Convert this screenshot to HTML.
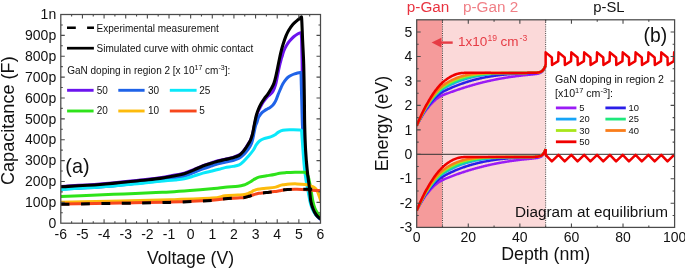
<!DOCTYPE html>
<html><head><meta charset="utf-8"><style>
html,body{margin:0;padding:0;background:#fff;}
body{width:685px;height:269px;overflow:hidden;position:relative;}
svg text{font-family:"Liberation Sans", sans-serif;} svg{will-change:transform;}
</style></head><body>
<svg fill="#111" width="685" height="269" viewBox="0 0 685 269" style="position:absolute;left:0;top:0">
<defs><clipPath id="ca"><rect x="60.8" y="14.5" width="259.7" height="208.7"/></clipPath>
<clipPath id="cb"><rect x="416.7" y="19.8" width="257.90000000000003" height="207.6"/></clipPath></defs>
<g clip-path="url(#ca)" fill="none" stroke-width="3.0" stroke-linejoin="round" stroke-linecap="butt">
<path d="M60.8 186.4 C67.33 186.02 86.8 185.17 100 184.1 C113.2 183.03 130 181.05 140 180 C150 178.95 154.17 178.63 160 177.8 C165.83 176.97 170.95 175.77 175 175 C179.05 174.23 181.2 174.08 184.3 173.2 C187.4 172.32 190.5 170.97 193.6 169.7 C196.7 168.43 199.8 166.78 202.9 165.6 C206 164.42 209.52 163.45 212.2 162.6 C214.88 161.75 216.87 161.07 219 160.5 C221.13 159.93 222.68 159.72 225 159.2 C227.32 158.68 230.53 158.12 232.9 157.4 C235.27 156.68 237.47 155.95 239.2 154.9 C240.93 153.85 242.08 152.48 243.3 151.1 C244.52 149.72 245.55 148.02 246.5 146.6 C247.45 145.18 248.3 143.77 249 142.6 C249.7 141.43 250.08 141.1 250.7 139.6 C251.32 138.1 252.05 136.15 252.7 133.6 C253.35 131.05 253.95 127.23 254.6 124.3 C255.25 121.37 255.98 118.22 256.6 116 C257.22 113.78 257.63 112.58 258.3 111 C258.97 109.42 259.8 107.97 260.6 106.5 C261.4 105.03 262.03 103.75 263.1 102.2 C264.17 100.65 265.85 98.47 267 97.2 C268.15 95.93 269 95.6 270 94.6 C271 93.6 272.07 92.85 273 91.2 C273.93 89.55 274.85 87.3 275.6 84.7 C276.35 82.1 276.87 78.63 277.5 75.6 C278.13 72.57 278.82 69.1 279.4 66.5 C279.98 63.9 280.5 61.83 281 60 C281.5 58.17 281.92 57.07 282.4 55.5 C282.88 53.93 283.22 52.28 283.9 50.6 C284.58 48.92 285.55 47 286.5 45.4 C287.45 43.8 288.35 42.48 289.6 41 C290.85 39.52 292.6 37.7 294 36.5 C295.4 35.3 296.97 34.42 298 33.8 C299.03 33.18 299.72 32.97 300.2 32.8 C300.68 32.63 300.78 32.8 300.9 32.8 L300.9 32.8 C300.97 33.17 301.18 33.8 301.3 35 C301.42 36.2 301.47 35.17 301.6 40 C301.73 44.83 301.97 54.83 302.1 64 C302.23 73.17 302.25 84.83 302.4 95 C302.55 105.17 302.7 115.83 303 125 C303.3 134.17 303.7 142.5 304.2 150 C304.7 157.5 305.27 163.67 306 170 C306.73 176.33 307.88 183 308.6 188 C309.32 193 309.57 196.5 310.3 200 C311.03 203.5 312.05 206.53 313 209 C313.95 211.47 314.97 213.25 316 214.8 C317.03 216.35 318.37 217.55 319.2 218.3 C320.03 219.05 320.7 219.13 321 219.3" stroke="#6c14ee"/>
<path d="M60.8 189.2 C67.33 188.83 86.8 188.03 100 187 C113.2 185.97 130 184.03 140 183 C150 181.97 154.17 181.65 160 180.8 C165.83 179.95 170.95 178.67 175 177.9 C179.05 177.13 181.2 177.07 184.3 176.2 C187.4 175.33 190.5 173.93 193.6 172.7 C196.7 171.47 199.8 169.95 202.9 168.8 C206 167.65 209.52 166.67 212.2 165.8 C214.88 164.93 216.87 164.18 219 163.6 C221.13 163.02 222.68 162.82 225 162.3 C227.32 161.78 230.53 161.17 232.9 160.5 C235.27 159.83 237.47 159.22 239.2 158.3 C240.93 157.38 242.08 156.15 243.3 155 C244.52 153.85 245.55 152.57 246.5 151.4 C247.45 150.23 248.17 149.32 249 148 C249.83 146.68 250.83 145.17 251.5 143.5 C252.17 141.83 252.55 139.92 253 138 C253.45 136.08 253.78 134 254.2 132 C254.62 130 255.05 127.58 255.5 126 C255.95 124.42 256.43 123.83 256.9 122.5 C257.37 121.17 257.78 119.22 258.3 118 C258.82 116.78 259.38 116.1 260 115.2 C260.62 114.3 261.25 113.35 262 112.6 C262.75 111.85 263.62 111.3 264.5 110.7 C265.38 110.1 266.37 109.55 267.3 109 C268.23 108.45 269.23 107.98 270.1 107.4 C270.97 106.82 271.77 106.25 272.5 105.5 C273.23 104.75 273.87 103.93 274.5 102.9 C275.13 101.87 275.73 100.6 276.3 99.3 C276.87 98 277.35 96.48 277.9 95.1 C278.45 93.72 279.05 92.3 279.6 91 C280.15 89.7 280.65 88.5 281.2 87.3 C281.75 86.1 282.33 84.83 282.9 83.8 C283.47 82.77 283.98 81.97 284.6 81.1 C285.22 80.23 285.87 79.35 286.6 78.6 C287.33 77.85 288.13 77.2 289 76.6 C289.87 76 290.87 75.45 291.8 75 C292.73 74.55 293.65 74.23 294.6 73.9 C295.55 73.57 296.57 73.25 297.5 73 C298.43 72.75 299.62 72.48 300.2 72.4 C300.78 72.32 300.87 72.48 301 72.5 L301 72.5 C301.05 74.58 301.18 80.42 301.3 85 C301.42 89.58 301.52 93.33 301.7 100 C301.88 106.67 302.1 117.5 302.4 125 C302.7 132.5 303.07 138.83 303.5 145 C303.93 151.17 304.42 156.5 305 162 C305.58 167.5 306.33 173 307 178 C307.67 183 308.37 187.83 309 192 C309.63 196.17 310.05 199.92 310.8 203 C311.55 206.08 312.55 208.42 313.5 210.5 C314.45 212.58 315.5 214.17 316.5 215.5 C317.5 216.83 318.75 217.83 319.5 218.5 C320.25 219.17 320.75 219.33 321 219.5" stroke="#1f63e8"/>
<path d="M60.8 189.4 C67.33 189.02 86.8 188.1 100 187.1 C113.2 186.1 130 184.37 140 183.4 C150 182.43 154.17 181.88 160 181.3 C165.83 180.72 170.95 180.33 175 179.9 C179.05 179.47 181.2 179.33 184.3 178.7 C187.4 178.07 190.5 177.03 193.6 176.1 C196.7 175.17 199.8 173.95 202.9 173.1 C206 172.25 209.52 171.63 212.2 171 C214.88 170.37 216.87 169.87 219 169.3 C221.13 168.73 222.68 168.08 225 167.6 C227.32 167.12 230.53 166.87 232.9 166.4 C235.27 165.93 237.42 165.63 239.2 164.8 C240.98 163.97 242.08 162.82 243.6 161.4 C245.12 159.98 246.67 158.2 248.3 156.3 C249.93 154.4 252.08 151.92 253.4 150 C254.72 148.08 255.18 146.3 256.2 144.8 C257.22 143.3 258.2 142.02 259.5 141 C260.8 139.98 262.15 139.38 264 138.7 C265.85 138.02 268.75 137.55 270.6 136.9 C272.45 136.25 273.78 135.6 275.1 134.8 C276.42 134 277.2 132.85 278.5 132.1 C279.8 131.35 281.05 130.68 282.9 130.3 C284.75 129.92 286.8 129.87 289.6 129.8 C292.4 129.73 297.7 129.8 299.7 129.9 C301.7 130 301.28 130.32 301.6 130.4 L301.6 130.4 C301.67 131.5 301.83 134.57 302 137 C302.17 139.43 302.37 141.83 302.6 145 C302.83 148.17 303.1 152.2 303.4 156 C303.7 159.8 303.97 163.8 304.4 167.8 C304.83 171.8 305.33 175.8 306 180 C306.67 184.2 307.63 189 308.4 193 C309.17 197 309.73 200.92 310.6 204 C311.47 207.08 312.53 209.5 313.6 211.5 C314.67 213.5 315.77 214.75 317 216 C318.23 217.25 320.33 218.5 321 219" stroke="#0ae8fa"/>
<path d="M60.8 196.4 C66 196.2 81.47 195.62 92 195.2 C102.53 194.78 113.33 194.33 124 193.9 C134.67 193.47 148.33 192.92 156 192.6 C163.67 192.28 164.33 192.33 170 192 C175.67 191.67 182.67 191.17 190 190.6 C197.33 190.03 208.17 189.15 214 188.6 C219.83 188.05 221 187.7 225 187.3 C229 186.9 234.83 186.58 238 186.2 C241.17 185.82 242.48 185.43 244 185 C245.52 184.57 246.02 184.15 247.1 183.6 C248.18 183.05 249.42 182.35 250.5 181.7 C251.58 181.05 252.22 180.47 253.6 179.7 C254.98 178.93 256.63 177.75 258.8 177.1 C260.97 176.45 264 176.23 266.6 175.8 C269.2 175.37 272.23 174.93 274.4 174.5 C276.57 174.07 277.65 173.52 279.6 173.2 C281.55 172.88 283.53 172.77 286.1 172.6 C288.67 172.43 291.93 172.27 295 172.2 C298.07 172.13 302.68 172.13 304.5 172.2 C306.32 172.27 305.67 172.53 305.9 172.6 L305.9 172.6 C306.15 173 306.92 174.05 307.4 175 C307.88 175.95 308.18 175.97 308.75 178.3 C309.32 180.63 310.11 185.18 310.8 189 C311.49 192.82 312.2 198 312.9 201.25 C313.6 204.5 314.23 206.54 315 208.5 C315.77 210.46 316.58 211.6 317.5 213 C318.42 214.4 319.83 216.15 320.5 216.9 C321.17 217.65 321.33 217.4 321.5 217.5" stroke="#2ee31a"/>
<path d="M60.8 202.2 C70.67 202.02 101.8 201.5 120 201.1 C138.2 200.7 154.67 200.3 170 199.8 C185.33 199.3 202.83 198.77 212 198.1 C221.17 197.43 220.67 196.3 225 195.8 C229.33 195.3 234.75 195.3 238 195.1 C241.25 194.9 242.83 194.85 244.5 194.6 C246.17 194.35 246.92 194 248 193.6 C249.08 193.2 250.08 192.68 251 192.2 C251.92 191.72 252.63 191.13 253.5 190.7 C254.37 190.27 255.12 189.9 256.2 189.6 C257.28 189.3 258.7 189.08 260 188.9 C261.3 188.72 262.5 188.63 264 188.5 C265.5 188.37 267.27 188.28 269 188.1 C270.73 187.92 272.98 187.67 274.4 187.4 C275.82 187.13 276.63 186.8 277.5 186.5 C278.37 186.2 278.68 185.88 279.6 185.6 C280.52 185.32 281.92 185 283 184.8 C284.08 184.6 284.93 184.53 286.1 184.4 C287.27 184.27 288.18 184.08 290 184 C291.82 183.92 294.42 183.8 297 183.9 C299.58 184 303.33 184.32 305.5 184.6 C307.67 184.88 308.72 185.23 310 185.6 C311.28 185.97 312.28 186.32 313.2 186.8 C314.12 187.28 314.78 187.72 315.5 188.5 C316.22 189.28 316.83 190.08 317.5 191.5 C318.17 192.92 318.92 195.33 319.5 197 C320.08 198.67 320.75 200.75 321 201.5" stroke="#fdbb0c"/>
<path d="M60.8 204.1 C70.67 203.93 101.8 203.43 120 203.1 C138.2 202.77 154.67 202.58 170 202.1 C185.33 201.62 202.83 200.77 212 200.2 C221.17 199.63 220.67 199.08 225 198.7 C229.33 198.32 234.75 198.12 238 197.9 C241.25 197.68 242.67 197.68 244.5 197.4 C246.33 197.12 247.48 196.65 249 196.2 C250.52 195.75 251.97 195.18 253.6 194.7 C255.23 194.22 257.07 193.62 258.8 193.3 C260.53 192.98 262.27 192.97 264 192.8 C265.73 192.63 267.45 192.5 269.2 192.3 C270.95 192.1 272.77 191.87 274.5 191.6 C276.23 191.33 278.1 190.97 279.6 190.7 C281.1 190.43 282.2 190.2 283.5 190 C284.8 189.8 285.15 189.62 287.4 189.5 C289.65 189.38 293.4 189.23 297 189.3 C300.6 189.37 305 189.65 309 189.9 C313 190.15 319 190.65 321 190.8" stroke="#f7471c"/>
<path d="M60.8 204.3 C70.67 204.13 101.8 203.62 120 203.3 C138.2 202.98 154.67 202.88 170 202.4 C185.33 201.92 202.83 201 212 200.4 C221.17 199.8 220.67 199.2 225 198.8 C229.33 198.4 234.75 198.22 238 198 C241.25 197.78 242.67 197.78 244.5 197.5 C246.33 197.22 247.48 196.75 249 196.3 C250.52 195.85 251.97 195.28 253.6 194.8 C255.23 194.32 257.07 193.73 258.8 193.4 C260.53 193.07 262.27 192.98 264 192.8 C265.73 192.62 267.45 192.5 269.2 192.3 C270.95 192.1 272.77 191.87 274.5 191.6 C276.23 191.33 278.1 190.97 279.6 190.7 C281.1 190.43 282.2 190.2 283.5 190 C284.8 189.8 285.15 189.62 287.4 189.5 C289.65 189.38 293.9 189.35 297 189.3 C300.1 189.25 302.87 189.23 306 189.2 C309.13 189.17 313.3 189.13 315.8 189.1 C318.3 189.07 320.13 189.02 321 189" stroke="#000" stroke-dasharray="8.8 11.5"/>
<path d="M60.8 186.8 C67.33 186.42 86.8 185.55 100 184.5 C113.2 183.45 130 181.52 140 180.5 C150 179.48 154.17 179.2 160 178.4 C165.83 177.6 170.95 176.48 175 175.7 C179.05 174.92 181.2 174.63 184.3 173.7 C187.4 172.77 190.5 171.38 193.6 170.1 C196.7 168.82 199.8 167.18 202.9 166 C206 164.82 209.52 163.85 212.2 163 C214.88 162.15 216.87 161.47 219 160.9 C221.13 160.33 222.68 160.12 225 159.6 C227.32 159.08 230.53 158.52 232.9 157.8 C235.27 157.08 237.47 156.35 239.2 155.3 C240.93 154.25 242.08 152.88 243.3 151.5 C244.52 150.12 245.55 148.42 246.5 147 C247.45 145.58 248.3 144.2 249 143 C249.7 141.8 250.1 141.37 250.7 139.8 C251.3 138.23 251.98 136.18 252.6 133.6 C253.22 131.02 253.78 127.32 254.4 124.3 C255.02 121.28 255.65 117.97 256.3 115.5 C256.95 113.03 257.47 111.53 258.3 109.5 C259.13 107.47 260.27 105.17 261.3 103.3 C262.33 101.43 263.47 99.75 264.5 98.3 C265.53 96.85 266.42 96.15 267.5 94.6 C268.58 93.05 269.93 90.87 271 89 C272.07 87.13 273.07 85.63 273.9 83.4 C274.73 81.17 275.37 78.23 276 75.6 C276.63 72.97 277.22 69.95 277.7 67.6 C278.18 65.25 278.38 64 278.9 61.5 C279.42 59 280.1 55.47 280.8 52.6 C281.5 49.73 282.25 47.03 283.1 44.3 C283.95 41.57 284.98 38.5 285.9 36.2 C286.82 33.9 287.42 32.48 288.6 30.5 C289.78 28.52 291.52 26.02 293 24.3 C294.48 22.58 296.15 21.38 297.5 20.2 C298.85 19.02 300.5 17.7 301.1 17.2 L301.1 17.2 C301.2 17.5 301.45 15.2 301.7 19 C301.95 22.8 302.27 32.5 302.6 40 C302.93 47.5 303.42 54.83 303.7 64 C303.98 73.17 304.13 84.83 304.3 95 C304.47 105.17 304.48 115.83 304.7 125 C304.92 134.17 305.18 142.5 305.6 150 C306.02 157.5 306.55 163.55 307.2 170 C307.85 176.45 308.9 183.5 309.5 188.7 C310.1 193.9 310.17 197.73 310.8 201.2 C311.43 204.67 312.43 207.28 313.3 209.5 C314.17 211.72 315.02 213.1 316 214.5 C316.98 215.9 318.37 217.15 319.2 217.9 C320.03 218.65 320.7 218.82 321 219" stroke="#000" stroke-width="3.1"/>
</g>
<rect x="60.8" y="14.5" width="259.7" height="208.7" fill="none" stroke="#4a4a4a" stroke-width="1.25"/>
<path d="M71.62 223.2 v-2 M71.62 14.5 v2 M82.44 223.2 v-4 M82.44 14.5 v4 M93.26 223.2 v-2 M93.26 14.5 v2 M104.08 223.2 v-4 M104.08 14.5 v4 M114.9 223.2 v-2 M114.9 14.5 v2 M125.72 223.2 v-4 M125.72 14.5 v4 M136.55 223.2 v-2 M136.55 14.5 v2 M147.37 223.2 v-4 M147.37 14.5 v4 M158.19 223.2 v-2 M158.19 14.5 v2 M169.01 223.2 v-4 M169.01 14.5 v4 M179.83 223.2 v-2 M179.83 14.5 v2 M190.65 223.2 v-4 M190.65 14.5 v4 M201.47 223.2 v-2 M201.47 14.5 v2 M212.29 223.2 v-4 M212.29 14.5 v4 M223.11 223.2 v-2 M223.11 14.5 v2 M233.93 223.2 v-4 M233.93 14.5 v4 M244.75 223.2 v-2 M244.75 14.5 v2 M255.57 223.2 v-4 M255.57 14.5 v4 M266.4 223.2 v-2 M266.4 14.5 v2 M277.22 223.2 v-4 M277.22 14.5 v4 M288.04 223.2 v-2 M288.04 14.5 v2 M298.86 223.2 v-4 M298.86 14.5 v4 M309.68 223.2 v-2 M309.68 14.5 v2 M60.8 212.76 h2 M320.5 212.76 h-2 M60.8 202.33 h4 M320.5 202.33 h-4 M60.8 191.89 h2 M320.5 191.89 h-2 M60.8 181.46 h4 M320.5 181.46 h-4 M60.8 171.02 h2 M320.5 171.02 h-2 M60.8 160.59 h4 M320.5 160.59 h-4 M60.8 150.15 h2 M320.5 150.15 h-2 M60.8 139.72 h4 M320.5 139.72 h-4 M60.8 129.28 h2 M320.5 129.28 h-2 M60.8 118.85 h4 M320.5 118.85 h-4 M60.8 108.41 h2 M320.5 108.41 h-2 M60.8 97.98 h4 M320.5 97.98 h-4 M60.8 87.54 h2 M320.5 87.54 h-2 M60.8 77.11 h4 M320.5 77.11 h-4 M60.8 66.67 h2 M320.5 66.67 h-2 M60.8 56.24 h4 M320.5 56.24 h-4 M60.8 45.8 h2 M320.5 45.8 h-2 M60.8 35.37 h4 M320.5 35.37 h-4 M60.8 24.94 h2 M320.5 24.94 h-2" stroke="#4a4a4a" stroke-width="1.1" fill="none"/>
<text x="60.8" y="238.6" font-size="14" text-anchor="middle">-6</text>
<text x="82.44" y="238.6" font-size="14" text-anchor="middle">-5</text>
<text x="104.08" y="238.6" font-size="14" text-anchor="middle">-4</text>
<text x="125.72" y="238.6" font-size="14" text-anchor="middle">-3</text>
<text x="147.37" y="238.6" font-size="14" text-anchor="middle">-2</text>
<text x="169.01" y="238.6" font-size="14" text-anchor="middle">-1</text>
<text x="190.65" y="238.6" font-size="14" text-anchor="middle">0</text>
<text x="212.29" y="238.6" font-size="14" text-anchor="middle">1</text>
<text x="233.93" y="238.6" font-size="14" text-anchor="middle">2</text>
<text x="255.57" y="238.6" font-size="14" text-anchor="middle">3</text>
<text x="277.22" y="238.6" font-size="14" text-anchor="middle">4</text>
<text x="298.86" y="238.6" font-size="14" text-anchor="middle">5</text>
<text x="320.5" y="238.6" font-size="14" text-anchor="middle">6</text>
<text x="56.2" y="227.9" font-size="14" text-anchor="end">0</text>
<text x="56.2" y="207.03" font-size="14" text-anchor="end">100p</text>
<text x="56.2" y="186.16" font-size="14" text-anchor="end">200p</text>
<text x="56.2" y="165.29" font-size="14" text-anchor="end">300p</text>
<text x="56.2" y="144.42" font-size="14" text-anchor="end">400p</text>
<text x="56.2" y="123.55" font-size="14" text-anchor="end">500p</text>
<text x="56.2" y="102.68" font-size="14" text-anchor="end">600p</text>
<text x="56.2" y="81.81" font-size="14" text-anchor="end">700p</text>
<text x="56.2" y="60.94" font-size="14" text-anchor="end">800p</text>
<text x="56.2" y="40.07" font-size="14" text-anchor="end">900p</text>
<text x="56.2" y="19.2" font-size="14" text-anchor="end">1n</text>
<text x="190.5" y="263.8" font-size="17.6" text-anchor="middle">Voltage (V)</text>
<text transform="translate(14.4 120.7) rotate(-90)" font-size="18.1" text-anchor="middle">Capacitance (F)</text>
<text x="65.3" y="173.1" font-size="19.8">(a)</text>
<path d="M67 27.8 H75.8 M87.1 27.8 H94" stroke="#000" stroke-width="2.4"/>
<text x="96.6" y="31.6" font-size="10">Experimental measurement</text>
<path d="M67 48.2 H93.9" stroke="#000" stroke-width="2.7"/>
<text x="96.6" y="51.6" font-size="10">Simulated curve with ohmic contact</text>
<text x="67.2" y="74.3" font-size="10">GaN doping in region 2 [x 10<tspan dy="-4" font-size="7">17</tspan><tspan dy="4"> cm</tspan><tspan dy="-4" font-size="7">-3</tspan><tspan dy="4">]:</tspan></text>
<path d="M67.1 90.3 H93.6" stroke="#6c14ee" stroke-width="2.9"/>
<text x="96.8" y="93.7" font-size="10">50</text>
<path d="M118.3 90.3 H144.6" stroke="#1f63e8" stroke-width="2.9"/>
<text x="148.0" y="93.7" font-size="10">30</text>
<path d="M169.8 90.3 H196.6" stroke="#0ae8fa" stroke-width="2.9"/>
<text x="199.3" y="93.7" font-size="10">25</text>
<path d="M67.1 111.0 H93.6" stroke="#2ee31a" stroke-width="2.9"/>
<text x="96.8" y="114.4" font-size="10">20</text>
<path d="M118.3 111.0 H144.6" stroke="#fdbb0c" stroke-width="2.9"/>
<text x="148.0" y="114.4" font-size="10">10</text>
<path d="M169.8 111.0 H196.6" stroke="#f7471c" stroke-width="2.9"/>
<text x="199.3" y="114.4" font-size="10">5</text>
<rect x="416.7" y="19.8" width="25.79000000000002" height="207.6" fill="#f59b9b"/>
<rect x="442.49" y="19.8" width="103.15999999999997" height="207.6" fill="#fbd9d9"/>
<path d="M442.49 19.8 V227.4 M545.65 19.8 V227.4" stroke="#333" stroke-width="0.9" stroke-dasharray="1 1.2"/>
<path d="M416.7 154.3 H674.6" stroke="#333" stroke-width="1"/>
<g clip-path="url(#cb)" fill="none" stroke-width="2.5" stroke-linejoin="round">
<path d="M416.7 210.53 L417.34 209.29 L417.99 208.08 L418.63 206.89 L419.28 205.72 L419.92 204.58 L420.57 203.46 L421.21 202.36 L421.86 201.29 L422.5 200.25 L423.15 199.23 L423.79 198.23 L424.44 197.26 L425.08 196.31 L425.73 195.39 L426.37 194.49 L427.02 193.88 L427.66 193.03 L428.31 192.2 L428.95 191.4 L429.59 190.63 L430.24 189.87 L430.88 189.15 L431.53 188.44 L432.17 187.77 L432.82 187.11 L433.46 186.48 L434.11 185.88 L434.75 185.3 L435.4 184.74 L436.04 184.21 L436.69 183.7 L437.33 183.22 L437.98 182.75 L438.62 182.32 L439.27 181.9 L439.91 181.51 L440.56 181.13 L441.2 180.78 L441.85 180.44 L442.49 180.11 L443.13 179.8 L443.78 179.5 L444.42 179.21 L445.07 178.93 L445.71 178.66 L446.36 178.39 L447 178.12 L447.65 177.86 L448.29 177.6 L448.94 177.34 L449.58 177.09 L450.23 176.84 L450.87 176.59 L451.52 176.34 L452.16 176.09 L452.81 175.85 L453.45 175.61 L454.1 175.36 L454.74 175.13 L455.38 174.89 L456.03 174.65 L456.67 174.42 L457.32 174.19 L457.96 173.96 L458.61 173.73 L459.25 173.51 L459.9 173.29 L460.54 173.06 L461.19 172.84 L461.83 172.63 L462.48 172.41 L463.12 172.2 L463.77 171.98 L464.41 171.77 L465.06 171.57 L465.7 171.36 L466.35 171.15 L466.99 170.95 L467.64 170.75 L468.28 170.55 L468.92 170.35 L469.57 170.16 L470.21 169.96 L470.86 169.77 L471.5 169.58 L472.15 169.39 L472.79 169.2 L473.44 169.02 L474.08 168.83 L474.73 168.65 L475.37 168.47 L476.02 168.29 L476.66 168.12 L477.31 167.94 L477.95 167.77 L478.6 167.6 L479.24 167.43 L479.89 167.26 L480.53 167.09 L481.18 166.93 L481.82 166.76 L482.46 166.6 L483.11 166.44 L483.75 166.28 L484.4 166.13 L485.04 165.97 L485.69 165.82 L486.33 165.67 L486.98 165.52 L487.62 165.37 L488.27 165.22 L488.91 165.08 L489.56 164.93 L490.2 164.79 L490.85 164.65 L491.49 164.51 L492.14 164.37 L492.78 164.24 L493.43 164.1 L494.07 163.97 L494.71 163.84 L495.36 163.71 L496 163.58 L496.65 163.45 L497.29 163.33 L497.94 163.2 L498.58 163.08 L499.23 162.96 L499.87 162.84 L500.52 162.73 L501.16 162.61 L501.81 162.49 L502.45 162.38 L503.1 162.27 L503.74 162.16 L504.39 162.05 L505.03 161.94 L505.68 161.84 L506.32 161.73 L506.97 161.63 L507.61 161.53 L508.25 161.43 L508.9 161.33 L509.54 161.23 L510.19 161.13 L510.83 161.04 L511.48 160.94 L512.12 160.85 L512.77 160.76 L513.41 160.67 L514.06 160.58 L514.7 160.5 L515.35 160.41 L515.99 160.33 L516.64 160.24 L517.28 160.16 L517.93 160.08 L518.57 160 L519.22 159.92 L519.86 159.85 L520.5 159.77 L521.15 159.7 L521.79 159.62 L522.44 159.55 L523.08 159.48 L523.73 159.41 L524.37 159.34 L525.02 159.27 L525.66 159.21 L526.31 159.14 L526.95 159.08 L527.6 159.01 L528.24 158.95 L528.89 158.89 L529.53 158.83 L530.18 158.76 L530.82 158.7 L531.47 158.64 L532.11 158.58 L532.75 158.51 L533.4 158.44 L534.04 158.37 L534.69 158.3 L535.33 158.22 L535.98 158.13 L536.62 158.03 L537.27 157.92 L537.91 157.79 L538.56 157.62 L539.2 157.44 L539.85 157.21 L540.49 156.94 L541.14 156.6 L541.78 156.17 L542.43 155.64 L543.07 154.97 L543.72 154.11 L544.36 153.03 L545.01 151.65 L545.65 149.88" stroke="#9a1cf5"/>
<path d="M416.7 125.69 L417.34 124.45 L417.99 123.24 L418.63 122.04 L419.28 120.88 L419.92 119.73 L420.57 118.62 L421.21 117.52 L421.86 116.45 L422.5 115.41 L423.15 114.39 L423.79 113.39 L424.44 112.42 L425.08 111.47 L425.73 110.55 L426.37 109.65 L427.02 109.04 L427.66 108.19 L428.31 107.36 L428.95 106.56 L429.59 105.78 L430.24 105.03 L430.88 104.3 L431.53 103.6 L432.17 102.92 L432.82 102.27 L433.46 101.64 L434.11 101.03 L434.75 100.45 L435.4 99.9 L436.04 99.37 L436.69 98.86 L437.33 98.37 L437.98 97.91 L438.62 97.48 L439.27 97.06 L439.91 96.67 L440.56 96.29 L441.2 95.94 L441.85 95.6 L442.49 95.27 L443.13 95.01 L443.78 94.75 L444.42 94.5 L445.07 94.25 L445.71 94.01 L446.36 93.78 L447 93.54 L447.65 93.31 L448.29 93.07 L448.94 92.84 L449.58 92.61 L450.23 92.38 L450.87 92.15 L451.52 91.92 L452.16 91.7 L452.81 91.47 L453.45 91.24 L454.1 91.02 L454.74 90.79 L455.38 90.57 L456.03 90.35 L456.67 90.13 L457.32 89.91 L457.96 89.69 L458.61 89.47 L459.25 89.26 L459.9 89.04 L460.54 88.83 L461.19 88.62 L461.83 88.41 L462.48 88.2 L463.12 87.99 L463.77 87.78 L464.41 87.58 L465.06 87.37 L465.7 87.17 L466.35 86.97 L466.99 86.77 L467.64 86.58 L468.28 86.38 L468.92 86.19 L469.57 85.99 L470.21 85.8 L470.86 85.61 L471.5 85.43 L472.15 85.24 L472.79 85.05 L473.44 84.87 L474.08 84.69 L474.73 84.51 L475.37 84.33 L476.02 84.16 L476.66 83.98 L477.31 83.81 L477.95 83.64 L478.6 83.47 L479.24 83.3 L479.89 83.13 L480.53 82.96 L481.18 82.8 L481.82 82.64 L482.46 82.48 L483.11 82.32 L483.75 82.16 L484.4 82.01 L485.04 81.85 L485.69 81.7 L486.33 81.55 L486.98 81.4 L487.62 81.25 L488.27 81.1 L488.91 80.96 L489.56 80.82 L490.2 80.67 L490.85 80.53 L491.49 80.4 L492.14 80.26 L492.78 80.12 L493.43 79.99 L494.07 79.86 L494.71 79.73 L495.36 79.6 L496 79.47 L496.65 79.34 L497.29 79.22 L497.94 79.09 L498.58 78.97 L499.23 78.85 L499.87 78.73 L500.52 78.61 L501.16 78.5 L501.81 78.38 L502.45 78.27 L503.1 78.16 L503.74 78.05 L504.39 77.94 L505.03 77.83 L505.68 77.73 L506.32 77.62 L506.97 77.52 L507.61 77.42 L508.25 77.32 L508.9 77.22 L509.54 77.12 L510.19 77.02 L510.83 76.93 L511.48 76.83 L512.12 76.74 L512.77 76.65 L513.41 76.56 L514.06 76.47 L514.7 76.39 L515.35 76.3 L515.99 76.22 L516.64 76.13 L517.28 76.05 L517.93 75.97 L518.57 75.89 L519.22 75.81 L519.86 75.74 L520.5 75.66 L521.15 75.59 L521.79 75.51 L522.44 75.44 L523.08 75.37 L523.73 75.3 L524.37 75.24 L525.02 75.17 L525.66 75.1 L526.31 75.03 L526.95 74.97 L527.6 74.91 L528.24 74.84 L528.89 74.78 L529.53 74.72 L530.18 74.66 L530.82 74.59 L531.47 74.53 L532.11 74.47 L532.75 74.4 L533.4 74.34 L534.04 74.27 L534.69 74.19 L535.33 74.11 L535.98 74.02 L536.62 73.92 L537.27 73.81 L537.91 73.68 L538.56 73.51 L539.2 73.33 L539.85 73.1 L540.49 72.83 L541.14 72.49 L541.78 72.06 L542.43 71.53 L543.07 70.86 L543.72 70 L544.36 68.92 L545.01 67.54 L545.65 65.77" stroke="#9a1cf5"/>
<path d="M416.7 210.53 L417.34 209.21 L417.99 207.91 L418.63 206.64 L419.28 205.39 L419.92 204.16 L420.57 202.96 L421.21 201.78 L421.86 200.63 L422.5 199.5 L423.15 198.4 L423.79 197.32 L424.44 196.27 L425.08 195.24 L425.73 194.23 L426.37 193.25 L427.02 192.56 L427.66 191.63 L428.31 190.72 L428.95 189.83 L429.59 188.98 L430.24 188.14 L430.88 187.33 L431.53 186.55 L432.17 185.78 L432.82 185.05 L433.46 184.34 L434.11 183.65 L434.75 182.99 L435.4 182.35 L436.04 181.73 L436.69 181.14 L437.33 180.58 L437.98 180.03 L438.62 179.51 L439.27 179.02 L439.91 178.54 L440.56 178.08 L441.2 177.65 L441.85 177.23 L442.49 176.83 L443.13 176.44 L443.78 176.06 L444.42 175.7 L445.07 175.35 L445.71 175 L446.36 174.66 L447 174.33 L447.65 174 L448.29 173.68 L448.94 173.37 L449.58 173.05 L450.23 172.75 L450.87 172.44 L451.52 172.14 L452.16 171.85 L452.81 171.56 L453.45 171.27 L454.1 170.99 L454.74 170.71 L455.38 170.43 L456.03 170.16 L456.67 169.9 L457.32 169.63 L457.96 169.37 L458.61 169.12 L459.25 168.87 L459.9 168.62 L460.54 168.37 L461.19 168.13 L461.83 167.89 L462.48 167.66 L463.12 167.43 L463.77 167.2 L464.41 166.98 L465.06 166.76 L465.7 166.55 L466.35 166.33 L466.99 166.12 L467.64 165.92 L468.28 165.71 L468.92 165.51 L469.57 165.32 L470.21 165.13 L470.86 164.94 L471.5 164.75 L472.15 164.57 L472.79 164.38 L473.44 164.21 L474.08 164.03 L474.73 163.86 L475.37 163.69 L476.02 163.53 L476.66 163.37 L477.31 163.21 L477.95 163.05 L478.6 162.89 L479.24 162.74 L479.89 162.59 L480.53 162.45 L481.18 162.31 L481.82 162.17 L482.46 162.03 L483.11 161.89 L483.75 161.76 L484.4 161.63 L485.04 161.5 L485.69 161.38 L486.33 161.26 L486.98 161.14 L487.62 161.02 L488.27 160.9 L488.91 160.79 L489.56 160.68 L490.2 160.57 L490.85 160.46 L491.49 160.36 L492.14 160.26 L492.78 160.16 L493.43 160.06 L494.07 159.97 L494.71 159.87 L495.36 159.78 L496 159.69 L496.65 159.61 L497.29 159.52 L497.94 159.44 L498.58 159.36 L499.23 159.28 L499.87 159.2 L500.52 159.13 L501.16 159.05 L501.81 158.98 L502.45 158.91 L503.1 158.84 L503.74 158.78 L504.39 158.71 L505.03 158.65 L505.68 158.59 L506.32 158.53 L506.97 158.47 L507.61 158.41 L508.25 158.36 L508.9 158.31 L509.54 158.25 L510.19 158.2 L510.83 158.15 L511.48 158.11 L512.12 158.06 L512.77 158.01 L513.41 157.97 L514.06 157.93 L514.7 157.89 L515.35 157.85 L515.99 157.81 L516.64 157.77 L517.28 157.74 L517.93 157.7 L518.57 157.67 L519.22 157.64 L519.86 157.6 L520.5 157.57 L521.15 157.55 L521.79 157.52 L522.44 157.49 L523.08 157.46 L523.73 157.44 L524.37 157.41 L525.02 157.39 L525.66 157.37 L526.31 157.34 L526.95 157.32 L527.6 157.3 L528.24 157.28 L528.89 157.26 L529.53 157.24 L530.18 157.22 L530.82 157.2 L531.47 157.17 L532.11 157.15 L532.75 157.13 L533.4 157.1 L534.04 157.07 L534.69 157.03 L535.33 156.99 L535.98 156.94 L536.62 156.87 L537.27 156.8 L537.91 156.7 L538.56 156.58 L539.2 156.43 L539.85 156.24 L540.49 156 L541.14 155.69 L541.78 155.3 L542.43 154.8 L543.07 154.16 L543.72 153.33 L544.36 152.28 L545.01 150.93 L545.65 149.19" stroke="#2a1ee8"/>
<path d="M416.7 125.69 L417.34 124.37 L417.99 123.07 L418.63 121.8 L419.28 120.55 L419.92 119.32 L420.57 118.12 L421.21 116.94 L421.86 115.79 L422.5 114.66 L423.15 113.56 L423.79 112.48 L424.44 111.43 L425.08 110.4 L425.73 109.39 L426.37 108.41 L427.02 107.72 L427.66 106.78 L428.31 105.88 L428.95 104.99 L429.59 104.13 L430.24 103.3 L430.88 102.49 L431.53 101.7 L432.17 100.94 L432.82 100.21 L433.46 99.49 L434.11 98.81 L434.75 98.14 L435.4 97.5 L436.04 96.89 L436.69 96.3 L437.33 95.73 L437.98 95.19 L438.62 94.67 L439.27 94.17 L439.91 93.7 L440.56 93.24 L441.2 92.81 L441.85 92.39 L442.49 91.99 L443.13 91.64 L443.78 91.31 L444.42 90.98 L445.07 90.67 L445.71 90.36 L446.36 90.05 L447 89.75 L447.65 89.45 L448.29 89.16 L448.94 88.86 L449.58 88.58 L450.23 88.29 L450.87 88.01 L451.52 87.73 L452.16 87.45 L452.81 87.18 L453.45 86.91 L454.1 86.64 L454.74 86.38 L455.38 86.12 L456.03 85.86 L456.67 85.6 L457.32 85.35 L457.96 85.1 L458.61 84.86 L459.25 84.61 L459.9 84.37 L460.54 84.14 L461.19 83.9 L461.83 83.67 L462.48 83.45 L463.12 83.22 L463.77 83 L464.41 82.79 L465.06 82.57 L465.7 82.36 L466.35 82.15 L466.99 81.95 L467.64 81.74 L468.28 81.55 L468.92 81.35 L469.57 81.16 L470.21 80.97 L470.86 80.78 L471.5 80.6 L472.15 80.42 L472.79 80.24 L473.44 80.06 L474.08 79.89 L474.73 79.72 L475.37 79.55 L476.02 79.39 L476.66 79.23 L477.31 79.07 L477.95 78.92 L478.6 78.76 L479.24 78.61 L479.89 78.47 L480.53 78.32 L481.18 78.18 L481.82 78.04 L482.46 77.9 L483.11 77.77 L483.75 77.64 L484.4 77.51 L485.04 77.38 L485.69 77.26 L486.33 77.14 L486.98 77.02 L487.62 76.9 L488.27 76.79 L488.91 76.67 L489.56 76.56 L490.2 76.46 L490.85 76.35 L491.49 76.25 L492.14 76.14 L492.78 76.05 L493.43 75.95 L494.07 75.85 L494.71 75.76 L495.36 75.67 L496 75.58 L496.65 75.5 L497.29 75.41 L497.94 75.33 L498.58 75.25 L499.23 75.17 L499.87 75.09 L500.52 75.02 L501.16 74.94 L501.81 74.87 L502.45 74.8 L503.1 74.73 L503.74 74.67 L504.39 74.6 L505.03 74.54 L505.68 74.48 L506.32 74.42 L506.97 74.36 L507.61 74.3 L508.25 74.25 L508.9 74.2 L509.54 74.14 L510.19 74.09 L510.83 74.04 L511.48 74 L512.12 73.95 L512.77 73.91 L513.41 73.86 L514.06 73.82 L514.7 73.78 L515.35 73.74 L515.99 73.7 L516.64 73.66 L517.28 73.63 L517.93 73.59 L518.57 73.56 L519.22 73.53 L519.86 73.5 L520.5 73.47 L521.15 73.44 L521.79 73.41 L522.44 73.38 L523.08 73.36 L523.73 73.33 L524.37 73.31 L525.02 73.28 L525.66 73.26 L526.31 73.23 L526.95 73.21 L527.6 73.19 L528.24 73.17 L528.89 73.15 L529.53 73.13 L530.18 73.11 L530.82 73.09 L531.47 73.07 L532.11 73.04 L532.75 73.02 L533.4 72.99 L534.04 72.96 L534.69 72.92 L535.33 72.88 L535.98 72.83 L536.62 72.77 L537.27 72.69 L537.91 72.59 L538.56 72.47 L539.2 72.32 L539.85 72.13 L540.49 71.89 L541.14 71.58 L541.78 71.19 L542.43 70.69 L543.07 70.05 L543.72 69.23 L544.36 68.17 L545.01 66.82 L545.65 65.09" stroke="#2a1ee8"/>
<path d="M416.7 210.53 L417.34 209.14 L417.99 207.78 L418.63 206.44 L419.28 205.12 L419.92 203.83 L420.57 202.56 L421.21 201.31 L421.86 200.09 L422.5 198.9 L423.15 197.73 L423.79 196.58 L424.44 195.46 L425.08 194.36 L425.73 193.29 L426.37 192.24 L427.02 191.48 L427.66 190.48 L428.31 189.51 L428.95 188.56 L429.59 187.63 L430.24 186.73 L430.88 185.85 L431.53 185 L432.17 184.17 L432.82 183.37 L433.46 182.59 L434.11 181.83 L434.75 181.1 L435.4 180.4 L436.04 179.71 L436.69 179.06 L437.33 178.42 L437.98 177.81 L438.62 177.23 L439.27 176.66 L439.91 176.12 L440.56 175.6 L441.2 175.1 L441.85 174.62 L442.49 174.15 L443.13 173.71 L443.78 173.27 L444.42 172.85 L445.07 172.44 L445.71 172.04 L446.36 171.65 L447 171.27 L447.65 170.9 L448.29 170.54 L448.94 170.18 L449.58 169.84 L450.23 169.49 L450.87 169.16 L451.52 168.83 L452.16 168.51 L452.81 168.19 L453.45 167.88 L454.1 167.58 L454.74 167.29 L455.38 167 L456.03 166.71 L456.67 166.43 L457.32 166.16 L457.96 165.9 L458.61 165.63 L459.25 165.38 L459.9 165.13 L460.54 164.89 L461.19 164.65 L461.83 164.42 L462.48 164.19 L463.12 163.96 L463.77 163.75 L464.41 163.54 L465.06 163.33 L465.7 163.13 L466.35 162.93 L466.99 162.73 L467.64 162.55 L468.28 162.36 L468.92 162.18 L469.57 162.01 L470.21 161.84 L470.86 161.67 L471.5 161.51 L472.15 161.35 L472.79 161.2 L473.44 161.05 L474.08 160.9 L474.73 160.76 L475.37 160.62 L476.02 160.49 L476.66 160.36 L477.31 160.23 L477.95 160.11 L478.6 159.99 L479.24 159.87 L479.89 159.76 L480.53 159.65 L481.18 159.54 L481.82 159.44 L482.46 159.34 L483.11 159.24 L483.75 159.15 L484.4 159.06 L485.04 158.97 L485.69 158.89 L486.33 158.8 L486.98 158.72 L487.62 158.65 L488.27 158.57 L488.91 158.5 L489.56 158.43 L490.2 158.36 L490.85 158.3 L491.49 158.23 L492.14 158.17 L492.78 158.11 L493.43 158.06 L494.07 158 L494.71 157.95 L495.36 157.9 L496 157.85 L496.65 157.81 L497.29 157.76 L497.94 157.72 L498.58 157.68 L499.23 157.64 L499.87 157.6 L500.52 157.57 L501.16 157.53 L501.81 157.5 L502.45 157.47 L503.1 157.44 L503.74 157.41 L504.39 157.39 L505.03 157.36 L505.68 157.34 L506.32 157.31 L506.97 157.29 L507.61 157.27 L508.25 157.25 L508.9 157.23 L509.54 157.21 L510.19 157.2 L510.83 157.18 L511.48 157.17 L512.12 157.15 L512.77 157.14 L513.41 157.13 L514.06 157.11 L514.7 157.1 L515.35 157.09 L515.99 157.08 L516.64 157.08 L517.28 157.07 L517.93 157.06 L518.57 157.05 L519.22 157.05 L519.86 157.04 L520.5 157.03 L521.15 157.03 L521.79 157.03 L522.44 157.02 L523.08 157.02 L523.73 157.01 L524.37 157.01 L525.02 157.01 L525.66 157 L526.31 157 L526.95 157 L527.6 156.99 L528.24 156.99 L528.89 156.98 L529.53 156.98 L530.18 156.97 L530.82 156.97 L531.47 156.96 L532.11 156.95 L532.75 156.94 L533.4 156.92 L534.04 156.9 L534.69 156.88 L535.33 156.85 L535.98 156.81 L536.62 156.75 L537.27 156.69 L537.91 156.6 L538.56 156.49 L539.2 156.35 L539.85 156.16 L540.49 155.93 L541.14 155.63 L541.78 155.24 L542.43 154.75 L543.07 154.11 L543.72 153.29 L544.36 152.24 L545.01 150.9 L545.65 149.17" stroke="#16a4f7"/>
<path d="M416.7 125.69 L417.34 124.3 L417.99 122.94 L418.63 121.6 L419.28 120.28 L419.92 118.99 L420.57 117.72 L421.21 116.47 L421.86 115.25 L422.5 114.06 L423.15 112.89 L423.79 111.74 L424.44 110.62 L425.08 109.52 L425.73 108.45 L426.37 107.4 L427.02 106.64 L427.66 105.64 L428.31 104.67 L428.95 103.72 L429.59 102.79 L430.24 101.89 L430.88 101.01 L431.53 100.16 L432.17 99.33 L432.82 98.53 L433.46 97.75 L434.11 96.99 L434.75 96.26 L435.4 95.55 L436.04 94.87 L436.69 94.22 L437.33 93.58 L437.98 92.97 L438.62 92.39 L439.27 91.82 L439.91 91.28 L440.56 90.76 L441.2 90.26 L441.85 89.78 L442.49 89.31 L443.13 88.91 L443.78 88.52 L444.42 88.13 L445.07 87.76 L445.71 87.4 L446.36 87.04 L447 86.69 L447.65 86.35 L448.29 86.01 L448.94 85.68 L449.58 85.36 L450.23 85.04 L450.87 84.73 L451.52 84.42 L452.16 84.11 L452.81 83.82 L453.45 83.52 L454.1 83.24 L454.74 82.95 L455.38 82.68 L456.03 82.41 L456.67 82.14 L457.32 81.88 L457.96 81.62 L458.61 81.37 L459.25 81.13 L459.9 80.89 L460.54 80.65 L461.19 80.42 L461.83 80.19 L462.48 79.97 L463.12 79.76 L463.77 79.55 L464.41 79.34 L465.06 79.14 L465.7 78.94 L466.35 78.75 L466.99 78.56 L467.64 78.37 L468.28 78.19 L468.92 78.02 L469.57 77.85 L470.21 77.68 L470.86 77.52 L471.5 77.36 L472.15 77.2 L472.79 77.05 L473.44 76.91 L474.08 76.76 L474.73 76.62 L475.37 76.49 L476.02 76.35 L476.66 76.23 L477.31 76.1 L477.95 75.98 L478.6 75.86 L479.24 75.75 L479.89 75.63 L480.53 75.52 L481.18 75.42 L481.82 75.32 L482.46 75.22 L483.11 75.12 L483.75 75.03 L484.4 74.94 L485.04 74.85 L485.69 74.77 L486.33 74.68 L486.98 74.61 L487.62 74.53 L488.27 74.45 L488.91 74.38 L489.56 74.31 L490.2 74.25 L490.85 74.18 L491.49 74.12 L492.14 74.06 L492.78 74 L493.43 73.95 L494.07 73.89 L494.71 73.84 L495.36 73.79 L496 73.74 L496.65 73.7 L497.29 73.65 L497.94 73.61 L498.58 73.57 L499.23 73.53 L499.87 73.49 L500.52 73.46 L501.16 73.42 L501.81 73.39 L502.45 73.36 L503.1 73.33 L503.74 73.3 L504.39 73.28 L505.03 73.25 L505.68 73.23 L506.32 73.2 L506.97 73.18 L507.61 73.16 L508.25 73.14 L508.9 73.12 L509.54 73.1 L510.19 73.09 L510.83 73.07 L511.48 73.06 L512.12 73.04 L512.77 73.03 L513.41 73.02 L514.06 73.01 L514.7 72.99 L515.35 72.98 L515.99 72.98 L516.64 72.97 L517.28 72.96 L517.93 72.95 L518.57 72.94 L519.22 72.94 L519.86 72.93 L520.5 72.93 L521.15 72.92 L521.79 72.92 L522.44 72.91 L523.08 72.91 L523.73 72.91 L524.37 72.9 L525.02 72.9 L525.66 72.89 L526.31 72.89 L526.95 72.89 L527.6 72.88 L528.24 72.88 L528.89 72.88 L529.53 72.87 L530.18 72.87 L530.82 72.86 L531.47 72.85 L532.11 72.84 L532.75 72.83 L533.4 72.82 L534.04 72.8 L534.69 72.77 L535.33 72.74 L535.98 72.7 L536.62 72.65 L537.27 72.58 L537.91 72.49 L538.56 72.38 L539.2 72.24 L539.85 72.06 L540.49 71.82 L541.14 71.52 L541.78 71.14 L542.43 70.64 L543.07 70 L543.72 69.19 L544.36 68.14 L545.01 66.79 L545.65 65.06" stroke="#16a4f7"/>
<path d="M416.7 210.53 L417.34 209.12 L417.99 207.73 L418.63 206.36 L419.28 205.02 L419.92 203.7 L420.57 202.41 L421.21 201.14 L421.86 199.9 L422.5 198.68 L423.15 197.48 L423.79 196.31 L424.44 195.17 L425.08 194.05 L425.73 192.95 L426.37 191.88 L427.02 191.09 L427.66 190.07 L428.31 189.07 L428.95 188.09 L429.59 187.14 L430.24 186.22 L430.88 185.31 L431.53 184.44 L432.17 183.58 L432.82 182.76 L433.46 181.95 L434.11 181.17 L434.75 180.42 L435.4 179.69 L436.04 178.98 L436.69 178.3 L437.33 177.64 L437.98 177.01 L438.62 176.4 L439.27 175.81 L439.91 175.24 L440.56 174.7 L441.2 174.17 L441.85 173.67 L442.49 173.18 L443.13 172.71 L443.78 172.26 L444.42 171.82 L445.07 171.39 L445.71 170.97 L446.36 170.57 L447 170.17 L447.65 169.79 L448.29 169.41 L448.94 169.04 L449.58 168.68 L450.23 168.33 L450.87 167.99 L451.52 167.65 L452.16 167.32 L452.81 167 L453.45 166.69 L454.1 166.38 L454.74 166.08 L455.38 165.79 L456.03 165.51 L456.67 165.23 L457.32 164.96 L457.96 164.69 L458.61 164.43 L459.25 164.18 L459.9 163.94 L460.54 163.7 L461.19 163.47 L461.83 163.24 L462.48 163.02 L463.12 162.8 L463.77 162.59 L464.41 162.39 L465.06 162.19 L465.7 162 L466.35 161.81 L466.99 161.63 L467.64 161.45 L468.28 161.28 L468.92 161.11 L469.57 160.95 L470.21 160.79 L470.86 160.64 L471.5 160.49 L472.15 160.35 L472.79 160.21 L473.44 160.07 L474.08 159.94 L474.73 159.81 L475.37 159.69 L476.02 159.57 L476.66 159.46 L477.31 159.35 L477.95 159.24 L478.6 159.14 L479.24 159.04 L479.89 158.94 L480.53 158.85 L481.18 158.76 L481.82 158.67 L482.46 158.59 L483.11 158.51 L483.75 158.43 L484.4 158.36 L485.04 158.28 L485.69 158.22 L486.33 158.15 L486.98 158.09 L487.62 158.03 L488.27 157.97 L488.91 157.91 L489.56 157.86 L490.2 157.81 L490.85 157.76 L491.49 157.71 L492.14 157.67 L492.78 157.63 L493.43 157.59 L494.07 157.55 L494.71 157.51 L495.36 157.48 L496 157.44 L496.65 157.41 L497.29 157.38 L497.94 157.35 L498.58 157.33 L499.23 157.3 L499.87 157.28 L500.52 157.26 L501.16 157.24 L501.81 157.22 L502.45 157.2 L503.1 157.18 L503.74 157.16 L504.39 157.15 L505.03 157.13 L505.68 157.12 L506.32 157.11 L506.97 157.1 L507.61 157.09 L508.25 157.08 L508.9 157.07 L509.54 157.06 L510.19 157.05 L510.83 157.04 L511.48 157.04 L512.12 157.03 L512.77 157.03 L513.41 157.02 L514.06 157.02 L514.7 157.01 L515.35 157.01 L515.99 157.01 L516.64 157.01 L517.28 157 L517.93 157 L518.57 157 L519.22 157 L519.86 157 L520.5 156.99 L521.15 156.99 L521.79 156.99 L522.44 156.99 L523.08 156.99 L523.73 156.99 L524.37 156.99 L525.02 156.99 L525.66 156.99 L526.31 156.99 L526.95 156.98 L527.6 156.98 L528.24 156.98 L528.89 156.98 L529.53 156.97 L530.18 156.97 L530.82 156.96 L531.47 156.96 L532.11 156.95 L532.75 156.94 L533.4 156.92 L534.04 156.9 L534.69 156.88 L535.33 156.85 L535.98 156.81 L536.62 156.75 L537.27 156.69 L537.91 156.6 L538.56 156.49 L539.2 156.35 L539.85 156.16 L540.49 155.93 L541.14 155.63 L541.78 155.24 L542.43 154.75 L543.07 154.11 L543.72 153.29 L544.36 152.24 L545.01 150.9 L545.65 149.17" stroke="#1ee87c"/>
<path d="M416.7 125.69 L417.34 124.28 L417.99 122.89 L418.63 121.52 L419.28 120.18 L419.92 118.86 L420.57 117.57 L421.21 116.3 L421.86 115.06 L422.5 113.84 L423.15 112.64 L423.79 111.47 L424.44 110.33 L425.08 109.21 L425.73 108.11 L426.37 107.04 L427.02 106.25 L427.66 105.22 L428.31 104.23 L428.95 103.25 L429.59 102.3 L430.24 101.37 L430.88 100.47 L431.53 99.6 L432.17 98.74 L432.82 97.91 L433.46 97.11 L434.11 96.33 L434.75 95.58 L435.4 94.85 L436.04 94.14 L436.69 93.46 L437.33 92.8 L437.98 92.17 L438.62 91.56 L439.27 90.97 L439.91 90.4 L440.56 89.86 L441.2 89.33 L441.85 88.83 L442.49 88.34 L443.13 87.92 L443.78 87.5 L444.42 87.1 L445.07 86.71 L445.71 86.33 L446.36 85.96 L447 85.59 L447.65 85.23 L448.29 84.88 L448.94 84.54 L449.58 84.21 L450.23 83.88 L450.87 83.55 L451.52 83.24 L452.16 82.93 L452.81 82.62 L453.45 82.33 L454.1 82.04 L454.74 81.75 L455.38 81.47 L456.03 81.2 L456.67 80.93 L457.32 80.67 L457.96 80.42 L458.61 80.17 L459.25 79.93 L459.9 79.69 L460.54 79.46 L461.19 79.24 L461.83 79.02 L462.48 78.8 L463.12 78.59 L463.77 78.39 L464.41 78.19 L465.06 78 L465.7 77.81 L466.35 77.63 L466.99 77.45 L467.64 77.28 L468.28 77.11 L468.92 76.95 L469.57 76.79 L470.21 76.63 L470.86 76.48 L471.5 76.34 L472.15 76.2 L472.79 76.06 L473.44 75.93 L474.08 75.8 L474.73 75.67 L475.37 75.55 L476.02 75.44 L476.66 75.32 L477.31 75.21 L477.95 75.11 L478.6 75.01 L479.24 74.91 L479.89 74.81 L480.53 74.72 L481.18 74.63 L481.82 74.55 L482.46 74.46 L483.11 74.39 L483.75 74.31 L484.4 74.24 L485.04 74.16 L485.69 74.1 L486.33 74.03 L486.98 73.97 L487.62 73.91 L488.27 73.85 L488.91 73.8 L489.56 73.74 L490.2 73.69 L490.85 73.64 L491.49 73.6 L492.14 73.55 L492.78 73.51 L493.43 73.47 L494.07 73.43 L494.71 73.4 L495.36 73.36 L496 73.33 L496.65 73.3 L497.29 73.27 L497.94 73.24 L498.58 73.22 L499.23 73.19 L499.87 73.17 L500.52 73.15 L501.16 73.12 L501.81 73.11 L502.45 73.09 L503.1 73.07 L503.74 73.05 L504.39 73.04 L505.03 73.02 L505.68 73.01 L506.32 73 L506.97 72.99 L507.61 72.98 L508.25 72.97 L508.9 72.96 L509.54 72.95 L510.19 72.94 L510.83 72.94 L511.48 72.93 L512.12 72.92 L512.77 72.92 L513.41 72.91 L514.06 72.91 L514.7 72.91 L515.35 72.9 L515.99 72.9 L516.64 72.9 L517.28 72.89 L517.93 72.89 L518.57 72.89 L519.22 72.89 L519.86 72.89 L520.5 72.89 L521.15 72.89 L521.79 72.88 L522.44 72.88 L523.08 72.88 L523.73 72.88 L524.37 72.88 L525.02 72.88 L525.66 72.88 L526.31 72.88 L526.95 72.88 L527.6 72.87 L528.24 72.87 L528.89 72.87 L529.53 72.87 L530.18 72.86 L530.82 72.86 L531.47 72.85 L532.11 72.84 L532.75 72.83 L533.4 72.81 L534.04 72.79 L534.69 72.77 L535.33 72.74 L535.98 72.7 L536.62 72.65 L537.27 72.58 L537.91 72.49 L538.56 72.38 L539.2 72.24 L539.85 72.06 L540.49 71.82 L541.14 71.52 L541.78 71.14 L542.43 70.64 L543.07 70 L543.72 69.19 L544.36 68.14 L545.01 66.79 L545.65 65.06" stroke="#1ee87c"/>
<path d="M416.7 210.53 L417.34 209.09 L417.99 207.66 L418.63 206.26 L419.28 204.89 L419.92 203.54 L420.57 202.21 L421.21 200.91 L421.86 199.63 L422.5 198.38 L423.15 197.15 L423.79 195.94 L424.44 194.76 L425.08 193.61 L425.73 192.48 L426.37 191.37 L427.02 190.55 L427.66 189.49 L428.31 188.46 L428.95 187.45 L429.59 186.47 L430.24 185.51 L430.88 184.57 L431.53 183.66 L432.17 182.78 L432.82 181.92 L433.46 181.08 L434.11 180.26 L434.75 179.48 L435.4 178.71 L436.04 177.97 L436.69 177.26 L437.33 176.57 L437.98 175.9 L438.62 175.25 L439.27 174.63 L439.91 174.04 L440.56 173.46 L441.2 172.9 L441.85 172.37 L442.49 171.85 L443.13 171.35 L443.78 170.87 L444.42 170.4 L445.07 169.95 L445.71 169.51 L446.36 169.08 L447 168.67 L447.65 168.27 L448.29 167.87 L448.94 167.49 L449.58 167.12 L450.23 166.76 L450.87 166.41 L451.52 166.06 L452.16 165.73 L452.81 165.41 L453.45 165.09 L454.1 164.79 L454.74 164.49 L455.38 164.2 L456.03 163.92 L456.67 163.64 L457.32 163.38 L457.96 163.12 L458.61 162.87 L459.25 162.63 L459.9 162.4 L460.54 162.17 L461.19 161.95 L461.83 161.74 L462.48 161.53 L463.12 161.33 L463.77 161.14 L464.41 160.95 L465.06 160.77 L465.7 160.6 L466.35 160.43 L466.99 160.27 L467.64 160.11 L468.28 159.96 L468.92 159.82 L469.57 159.68 L470.21 159.54 L470.86 159.41 L471.5 159.29 L472.15 159.17 L472.79 159.05 L473.44 158.94 L474.08 158.83 L474.73 158.73 L475.37 158.63 L476.02 158.54 L476.66 158.45 L477.31 158.37 L477.95 158.28 L478.6 158.21 L479.24 158.13 L479.89 158.06 L480.53 157.99 L481.18 157.93 L481.82 157.87 L482.46 157.81 L483.11 157.75 L483.75 157.7 L484.4 157.65 L485.04 157.6 L485.69 157.56 L486.33 157.51 L486.98 157.47 L487.62 157.44 L488.27 157.4 L488.91 157.37 L489.56 157.34 L490.2 157.31 L490.85 157.28 L491.49 157.26 L492.14 157.23 L492.78 157.21 L493.43 157.19 L494.07 157.17 L494.71 157.15 L495.36 157.14 L496 157.12 L496.65 157.11 L497.29 157.09 L497.94 157.08 L498.58 157.07 L499.23 157.06 L499.87 157.05 L500.52 157.04 L501.16 157.04 L501.81 157.03 L502.45 157.03 L503.1 157.02 L503.74 157.02 L504.39 157.01 L505.03 157.01 L505.68 157 L506.32 157 L506.97 157 L507.61 157 L508.25 157 L508.9 156.99 L509.54 156.99 L510.19 156.99 L510.83 156.99 L511.48 156.99 L512.12 156.99 L512.77 156.99 L513.41 156.99 L514.06 156.99 L514.7 156.99 L515.35 156.99 L515.99 156.99 L516.64 156.99 L517.28 156.99 L517.93 156.99 L518.57 156.99 L519.22 156.99 L519.86 156.99 L520.5 156.99 L521.15 156.99 L521.79 156.99 L522.44 156.99 L523.08 156.99 L523.73 156.99 L524.37 156.99 L525.02 156.99 L525.66 156.99 L526.31 156.99 L526.95 156.98 L527.6 156.98 L528.24 156.98 L528.89 156.98 L529.53 156.97 L530.18 156.97 L530.82 156.96 L531.47 156.96 L532.11 156.95 L532.75 156.94 L533.4 156.92 L534.04 156.9 L534.69 156.88 L535.33 156.85 L535.98 156.81 L536.62 156.75 L537.27 156.69 L537.91 156.6 L538.56 156.49 L539.2 156.35 L539.85 156.16 L540.49 155.93 L541.14 155.63 L541.78 155.24 L542.43 154.75 L543.07 154.11 L543.72 153.29 L544.36 152.24 L545.01 150.9 L545.65 149.17" stroke="#a8e61a"/>
<path d="M416.7 125.69 L417.34 124.24 L417.99 122.82 L418.63 121.42 L419.28 120.05 L419.92 118.69 L420.57 117.37 L421.21 116.07 L421.86 114.79 L422.5 113.54 L423.15 112.31 L423.79 111.1 L424.44 109.92 L425.08 108.77 L425.73 107.64 L426.37 106.53 L427.02 105.71 L427.66 104.65 L428.31 103.62 L428.95 102.61 L429.59 101.63 L430.24 100.67 L430.88 99.73 L431.53 98.82 L432.17 97.94 L432.82 97.07 L433.46 96.24 L434.11 95.42 L434.75 94.63 L435.4 93.87 L436.04 93.13 L436.69 92.42 L437.33 91.72 L437.98 91.06 L438.62 90.41 L439.27 89.79 L439.91 89.19 L440.56 88.62 L441.2 88.06 L441.85 87.53 L442.49 87.01 L443.13 86.55 L443.78 86.11 L444.42 85.69 L445.07 85.27 L445.71 84.87 L446.36 84.47 L447 84.09 L447.65 83.71 L448.29 83.35 L448.94 82.99 L449.58 82.64 L450.23 82.31 L450.87 81.97 L451.52 81.65 L452.16 81.34 L452.81 81.03 L453.45 80.73 L454.1 80.44 L454.74 80.16 L455.38 79.88 L456.03 79.61 L456.67 79.35 L457.32 79.1 L457.96 78.85 L458.61 78.61 L459.25 78.38 L459.9 78.15 L460.54 77.94 L461.19 77.72 L461.83 77.52 L462.48 77.32 L463.12 77.13 L463.77 76.94 L464.41 76.76 L465.06 76.58 L465.7 76.41 L466.35 76.25 L466.99 76.09 L467.64 75.94 L468.28 75.79 L468.92 75.65 L469.57 75.51 L470.21 75.38 L470.86 75.26 L471.5 75.13 L472.15 75.02 L472.79 74.9 L473.44 74.8 L474.08 74.69 L474.73 74.59 L475.37 74.5 L476.02 74.4 L476.66 74.32 L477.31 74.23 L477.95 74.15 L478.6 74.08 L479.24 74 L479.89 73.93 L480.53 73.87 L481.18 73.8 L481.82 73.74 L482.46 73.68 L483.11 73.63 L483.75 73.58 L484.4 73.53 L485.04 73.48 L485.69 73.44 L486.33 73.4 L486.98 73.36 L487.62 73.32 L488.27 73.29 L488.91 73.25 L489.56 73.22 L490.2 73.19 L490.85 73.17 L491.49 73.14 L492.14 73.12 L492.78 73.1 L493.43 73.08 L494.07 73.06 L494.71 73.04 L495.36 73.02 L496 73.01 L496.65 72.99 L497.29 72.98 L497.94 72.97 L498.58 72.96 L499.23 72.95 L499.87 72.94 L500.52 72.93 L501.16 72.93 L501.81 72.92 L502.45 72.92 L503.1 72.91 L503.74 72.91 L504.39 72.9 L505.03 72.9 L505.68 72.9 L506.32 72.89 L506.97 72.89 L507.61 72.89 L508.25 72.89 L508.9 72.89 L509.54 72.88 L510.19 72.88 L510.83 72.88 L511.48 72.88 L512.12 72.88 L512.77 72.88 L513.41 72.88 L514.06 72.88 L514.7 72.88 L515.35 72.88 L515.99 72.88 L516.64 72.88 L517.28 72.88 L517.93 72.88 L518.57 72.88 L519.22 72.88 L519.86 72.88 L520.5 72.88 L521.15 72.88 L521.79 72.88 L522.44 72.88 L523.08 72.88 L523.73 72.88 L524.37 72.88 L525.02 72.88 L525.66 72.88 L526.31 72.88 L526.95 72.88 L527.6 72.87 L528.24 72.87 L528.89 72.87 L529.53 72.87 L530.18 72.86 L530.82 72.86 L531.47 72.85 L532.11 72.84 L532.75 72.83 L533.4 72.81 L534.04 72.79 L534.69 72.77 L535.33 72.74 L535.98 72.7 L536.62 72.65 L537.27 72.58 L537.91 72.49 L538.56 72.38 L539.2 72.24 L539.85 72.06 L540.49 71.82 L541.14 71.52 L541.78 71.14 L542.43 70.64 L543.07 70 L543.72 69.19 L544.36 68.14 L545.01 66.79 L545.65 65.06" stroke="#a8e61a"/>
<path d="M416.7 210.53 L417.34 209.06 L417.99 207.6 L418.63 206.17 L419.28 204.76 L419.92 203.38 L420.57 202.03 L421.21 200.69 L421.86 199.39 L422.5 198.1 L423.15 196.84 L423.79 195.61 L424.44 194.4 L425.08 193.21 L425.73 192.05 L426.37 190.91 L427.02 190.06 L427.66 188.98 L428.31 187.91 L428.95 186.87 L429.59 185.86 L430.24 184.87 L430.88 183.9 L431.53 182.96 L432.17 182.04 L432.82 181.15 L433.46 180.28 L434.11 179.44 L434.75 178.62 L435.4 177.83 L436.04 177.06 L436.69 176.31 L437.33 175.59 L437.98 174.89 L438.62 174.22 L439.27 173.57 L439.91 172.94 L440.56 172.33 L441.2 171.75 L441.85 171.19 L442.49 170.64 L443.13 170.12 L443.78 169.61 L444.42 169.12 L445.07 168.65 L445.71 168.19 L446.36 167.75 L447 167.32 L447.65 166.9 L448.29 166.5 L448.94 166.11 L449.58 165.73 L450.23 165.37 L450.87 165.01 L451.52 164.67 L452.16 164.33 L452.81 164.01 L453.45 163.7 L454.1 163.4 L454.74 163.11 L455.38 162.83 L456.03 162.55 L456.67 162.29 L457.32 162.04 L457.96 161.8 L458.61 161.56 L459.25 161.33 L459.9 161.12 L460.54 160.91 L461.19 160.71 L461.83 160.51 L462.48 160.32 L463.12 160.15 L463.77 159.97 L464.41 159.81 L465.06 159.65 L465.7 159.5 L466.35 159.36 L466.99 159.22 L467.64 159.08 L468.28 158.96 L468.92 158.84 L469.57 158.72 L470.21 158.61 L470.86 158.51 L471.5 158.41 L472.15 158.31 L472.79 158.22 L473.44 158.14 L474.08 158.06 L474.73 157.98 L475.37 157.91 L476.02 157.84 L476.66 157.78 L477.31 157.72 L477.95 157.66 L478.6 157.6 L479.24 157.55 L479.89 157.51 L480.53 157.46 L481.18 157.42 L481.82 157.38 L482.46 157.35 L483.11 157.31 L483.75 157.28 L484.4 157.25 L485.04 157.23 L485.69 157.2 L486.33 157.18 L486.98 157.16 L487.62 157.14 L488.27 157.12 L488.91 157.11 L489.56 157.09 L490.2 157.08 L490.85 157.07 L491.49 157.06 L492.14 157.05 L492.78 157.04 L493.43 157.03 L494.07 157.03 L494.71 157.02 L495.36 157.01 L496 157.01 L496.65 157.01 L497.29 157 L497.94 157 L498.58 157 L499.23 157 L499.87 157 L500.52 156.99 L501.16 156.99 L501.81 156.99 L502.45 156.99 L503.1 156.99 L503.74 156.99 L504.39 156.99 L505.03 156.99 L505.68 156.99 L506.32 156.99 L506.97 156.99 L507.61 156.99 L508.25 156.99 L508.9 156.99 L509.54 156.99 L510.19 156.99 L510.83 156.99 L511.48 156.99 L512.12 156.99 L512.77 156.99 L513.41 156.99 L514.06 156.99 L514.7 156.99 L515.35 156.99 L515.99 156.99 L516.64 156.99 L517.28 156.99 L517.93 156.99 L518.57 156.99 L519.22 156.99 L519.86 156.99 L520.5 156.99 L521.15 156.99 L521.79 156.99 L522.44 156.99 L523.08 156.99 L523.73 156.99 L524.37 156.99 L525.02 156.99 L525.66 156.99 L526.31 156.99 L526.95 156.98 L527.6 156.98 L528.24 156.98 L528.89 156.98 L529.53 156.97 L530.18 156.97 L530.82 156.96 L531.47 156.96 L532.11 156.95 L532.75 156.94 L533.4 156.92 L534.04 156.9 L534.69 156.88 L535.33 156.85 L535.98 156.81 L536.62 156.75 L537.27 156.69 L537.91 156.6 L538.56 156.49 L539.2 156.35 L539.85 156.16 L540.49 155.93 L541.14 155.63 L541.78 155.24 L542.43 154.75 L543.07 154.11 L543.72 153.29 L544.36 152.24 L545.01 150.9 L545.65 149.17" stroke="#fa7d1a"/>
<path d="M416.7 125.69 L417.34 124.21 L417.99 122.76 L418.63 121.33 L419.28 119.92 L419.92 118.54 L420.57 117.18 L421.21 115.85 L421.86 114.54 L422.5 113.26 L423.15 112 L423.79 110.77 L424.44 109.56 L425.08 108.37 L425.73 107.21 L426.37 106.07 L427.02 105.22 L427.66 104.13 L428.31 103.07 L428.95 102.03 L429.59 101.02 L430.24 100.03 L430.88 99.06 L431.53 98.12 L432.17 97.2 L432.82 96.31 L433.46 95.44 L434.11 94.6 L434.75 93.78 L435.4 92.98 L436.04 92.21 L436.69 91.47 L437.33 90.75 L437.98 90.05 L438.62 89.37 L439.27 88.72 L439.91 88.1 L440.56 87.49 L441.2 86.91 L441.85 86.34 L442.49 85.8 L443.13 85.32 L443.78 84.86 L444.42 84.41 L445.07 83.97 L445.71 83.55 L446.36 83.14 L447 82.74 L447.65 82.35 L448.29 81.97 L448.94 81.61 L449.58 81.25 L450.23 80.91 L450.87 80.58 L451.52 80.25 L452.16 79.94 L452.81 79.63 L453.45 79.34 L454.1 79.05 L454.74 78.78 L455.38 78.51 L456.03 78.25 L456.67 78 L457.32 77.76 L457.96 77.52 L458.61 77.3 L459.25 77.08 L459.9 76.87 L460.54 76.67 L461.19 76.48 L461.83 76.29 L462.48 76.11 L463.12 75.94 L463.77 75.77 L464.41 75.61 L465.06 75.46 L465.7 75.31 L466.35 75.17 L466.99 75.04 L467.64 74.91 L468.28 74.79 L468.92 74.67 L469.57 74.56 L470.21 74.45 L470.86 74.35 L471.5 74.26 L472.15 74.16 L472.79 74.08 L473.44 73.99 L474.08 73.92 L474.73 73.84 L475.37 73.77 L476.02 73.7 L476.66 73.64 L477.31 73.58 L477.95 73.53 L478.6 73.47 L479.24 73.43 L479.89 73.38 L480.53 73.34 L481.18 73.3 L481.82 73.26 L482.46 73.22 L483.11 73.19 L483.75 73.16 L484.4 73.13 L485.04 73.11 L485.69 73.08 L486.33 73.06 L486.98 73.04 L487.62 73.02 L488.27 73.01 L488.91 72.99 L489.56 72.98 L490.2 72.96 L490.85 72.95 L491.49 72.94 L492.14 72.93 L492.78 72.93 L493.43 72.92 L494.07 72.91 L494.71 72.91 L495.36 72.9 L496 72.9 L496.65 72.89 L497.29 72.89 L497.94 72.89 L498.58 72.89 L499.23 72.89 L499.87 72.88 L500.52 72.88 L501.16 72.88 L501.81 72.88 L502.45 72.88 L503.1 72.88 L503.74 72.88 L504.39 72.88 L505.03 72.88 L505.68 72.88 L506.32 72.88 L506.97 72.88 L507.61 72.88 L508.25 72.88 L508.9 72.88 L509.54 72.88 L510.19 72.88 L510.83 72.88 L511.48 72.88 L512.12 72.88 L512.77 72.88 L513.41 72.88 L514.06 72.88 L514.7 72.88 L515.35 72.88 L515.99 72.88 L516.64 72.88 L517.28 72.88 L517.93 72.88 L518.57 72.88 L519.22 72.88 L519.86 72.88 L520.5 72.88 L521.15 72.88 L521.79 72.88 L522.44 72.88 L523.08 72.88 L523.73 72.88 L524.37 72.88 L525.02 72.88 L525.66 72.88 L526.31 72.88 L526.95 72.88 L527.6 72.87 L528.24 72.87 L528.89 72.87 L529.53 72.87 L530.18 72.86 L530.82 72.86 L531.47 72.85 L532.11 72.84 L532.75 72.83 L533.4 72.81 L534.04 72.79 L534.69 72.77 L535.33 72.74 L535.98 72.7 L536.62 72.65 L537.27 72.58 L537.91 72.49 L538.56 72.38 L539.2 72.24 L539.85 72.06 L540.49 71.82 L541.14 71.52 L541.78 71.14 L542.43 70.64 L543.07 70 L543.72 69.19 L544.36 68.14 L545.01 66.79 L545.65 65.06" stroke="#fa7d1a"/>
<path d="M416.7 210.53 L417.34 208.97 L417.99 207.44 L418.63 205.92 L419.28 204.43 L419.92 202.97 L420.57 201.53 L421.21 200.12 L421.86 198.73 L422.5 197.36 L423.15 196.02 L423.79 194.7 L424.44 193.41 L425.08 192.14 L425.73 190.9 L426.37 189.68 L427.02 188.74 L427.66 187.57 L428.31 186.43 L428.95 185.3 L429.59 184.21 L430.24 183.13 L430.88 182.09 L431.53 181.06 L432.17 180.06 L432.82 179.09 L433.46 178.14 L434.11 177.21 L434.75 176.31 L435.4 175.43 L436.04 174.58 L436.69 173.75 L437.33 172.95 L437.98 172.17 L438.62 171.41 L439.27 170.68 L439.91 169.97 L440.56 169.28 L441.2 168.62 L441.85 167.98 L442.49 167.36 L443.13 166.76 L443.78 166.18 L444.42 165.62 L445.07 165.07 L445.71 164.55 L446.36 164.04 L447 163.56 L447.65 163.09 L448.29 162.63 L448.94 162.2 L449.58 161.78 L450.23 161.38 L450.87 161 L451.52 160.63 L452.16 160.28 L452.81 159.95 L453.45 159.64 L454.1 159.35 L454.74 159.07 L455.38 158.81 L456.03 158.57 L456.67 158.35 L457.32 158.15 L457.96 157.97 L458.61 157.8 L459.25 157.66 L459.9 157.53 L460.54 157.42 L461.19 157.32 L461.83 157.24 L462.48 157.18 L463.12 157.13 L463.77 157.09 L464.41 157.06 L465.06 157.03 L465.7 157.02 L466.35 157.01 L466.99 157 L467.64 156.99 L468.28 156.99 L468.92 156.99 L469.57 156.99 L470.21 156.99 L470.86 156.99 L471.5 156.99 L472.15 156.99 L472.79 156.99 L473.44 156.99 L474.08 156.99 L474.73 156.99 L475.37 156.99 L476.02 156.99 L476.66 156.99 L477.31 156.99 L477.95 156.99 L478.6 156.99 L479.24 156.99 L479.89 156.99 L480.53 156.99 L481.18 156.99 L481.82 156.99 L482.46 156.99 L483.11 156.99 L483.75 156.99 L484.4 156.99 L485.04 156.99 L485.69 156.99 L486.33 156.99 L486.98 156.99 L487.62 156.99 L488.27 156.99 L488.91 156.99 L489.56 156.99 L490.2 156.99 L490.85 156.99 L491.49 156.99 L492.14 156.99 L492.78 156.99 L493.43 156.99 L494.07 156.99 L494.71 156.99 L495.36 156.99 L496 156.99 L496.65 156.99 L497.29 156.99 L497.94 156.99 L498.58 156.99 L499.23 156.99 L499.87 156.99 L500.52 156.99 L501.16 156.99 L501.81 156.99 L502.45 156.99 L503.1 156.99 L503.74 156.99 L504.39 156.99 L505.03 156.99 L505.68 156.99 L506.32 156.99 L506.97 156.99 L507.61 156.99 L508.25 156.99 L508.9 156.99 L509.54 156.99 L510.19 156.99 L510.83 156.99 L511.48 156.99 L512.12 156.99 L512.77 156.99 L513.41 156.99 L514.06 156.99 L514.7 156.99 L515.35 156.99 L515.99 156.99 L516.64 156.99 L517.28 156.99 L517.93 156.99 L518.57 156.99 L519.22 156.99 L519.86 156.99 L520.5 156.99 L521.15 156.99 L521.79 156.99 L522.44 156.99 L523.08 156.99 L523.73 156.99 L524.37 156.99 L525.02 156.99 L525.66 156.99 L526.31 156.99 L526.95 156.98 L527.6 156.98 L528.24 156.98 L528.89 156.98 L529.53 156.97 L530.18 156.97 L530.82 156.96 L531.47 156.96 L532.11 156.95 L532.75 156.94 L533.4 156.92 L534.04 156.9 L534.69 156.88 L535.33 156.85 L535.98 156.81 L536.62 156.75 L537.27 156.69 L537.91 156.6 L538.56 156.49 L539.2 156.35 L539.85 156.16 L540.49 155.93 L541.14 155.63 L541.78 155.24 L542.43 154.75 L543.07 154.11 L543.72 153.29 L544.36 152.24 L545.01 150.9 L545.65 149.17" stroke="#f00000"/>
<path d="M416.7 125.69 L417.34 124.13 L417.99 122.59 L418.63 121.08 L419.28 119.59 L419.92 118.13 L420.57 116.69 L421.21 115.27 L421.86 113.88 L422.5 112.52 L423.15 111.18 L423.79 109.86 L424.44 108.57 L425.08 107.3 L425.73 106.05 L426.37 104.83 L427.02 103.9 L427.66 102.73 L428.31 101.58 L428.95 100.46 L429.59 99.37 L430.24 98.29 L430.88 97.24 L431.53 96.22 L432.17 95.22 L432.82 94.25 L433.46 93.3 L434.11 92.37 L434.75 91.47 L435.4 90.59 L436.04 89.74 L436.69 88.91 L437.33 88.11 L437.98 87.33 L438.62 86.57 L439.27 85.84 L439.91 85.13 L440.56 84.44 L441.2 83.78 L441.85 83.14 L442.49 82.52 L443.13 81.96 L443.78 81.42 L444.42 80.9 L445.07 80.39 L445.71 79.91 L446.36 79.43 L447 78.98 L447.65 78.53 L448.29 78.11 L448.94 77.7 L449.58 77.3 L450.23 76.93 L450.87 76.56 L451.52 76.22 L452.16 75.89 L452.81 75.58 L453.45 75.28 L454.1 75 L454.74 74.74 L455.38 74.5 L456.03 74.27 L456.67 74.06 L457.32 73.87 L457.96 73.7 L458.61 73.54 L459.25 73.4 L459.9 73.28 L460.54 73.18 L461.19 73.09 L461.83 73.02 L462.48 72.96 L463.12 72.92 L463.77 72.89 L464.41 72.86 L465.06 72.84 L465.7 72.83 L466.35 72.83 L466.99 72.82 L467.64 72.82 L468.28 72.82 L468.92 72.83 L469.57 72.83 L470.21 72.83 L470.86 72.83 L471.5 72.84 L472.15 72.84 L472.79 72.84 L473.44 72.84 L474.08 72.85 L474.73 72.85 L475.37 72.85 L476.02 72.85 L476.66 72.85 L477.31 72.86 L477.95 72.86 L478.6 72.86 L479.24 72.86 L479.89 72.86 L480.53 72.86 L481.18 72.86 L481.82 72.87 L482.46 72.87 L483.11 72.87 L483.75 72.87 L484.4 72.87 L485.04 72.87 L485.69 72.87 L486.33 72.87 L486.98 72.87 L487.62 72.87 L488.27 72.87 L488.91 72.87 L489.56 72.87 L490.2 72.87 L490.85 72.87 L491.49 72.88 L492.14 72.88 L492.78 72.88 L493.43 72.88 L494.07 72.88 L494.71 72.88 L495.36 72.88 L496 72.88 L496.65 72.88 L497.29 72.88 L497.94 72.88 L498.58 72.88 L499.23 72.88 L499.87 72.88 L500.52 72.88 L501.16 72.88 L501.81 72.88 L502.45 72.88 L503.1 72.88 L503.74 72.88 L504.39 72.88 L505.03 72.88 L505.68 72.88 L506.32 72.88 L506.97 72.88 L507.61 72.88 L508.25 72.88 L508.9 72.88 L509.54 72.88 L510.19 72.88 L510.83 72.88 L511.48 72.88 L512.12 72.88 L512.77 72.88 L513.41 72.88 L514.06 72.88 L514.7 72.88 L515.35 72.88 L515.99 72.88 L516.64 72.88 L517.28 72.88 L517.93 72.88 L518.57 72.88 L519.22 72.88 L519.86 72.88 L520.5 72.88 L521.15 72.88 L521.79 72.88 L522.44 72.88 L523.08 72.88 L523.73 72.88 L524.37 72.88 L525.02 72.88 L525.66 72.88 L526.31 72.88 L526.95 72.88 L527.6 72.87 L528.24 72.87 L528.89 72.87 L529.53 72.87 L530.18 72.86 L530.82 72.86 L531.47 72.85 L532.11 72.84 L532.75 72.83 L533.4 72.81 L534.04 72.79 L534.69 72.77 L535.33 72.74 L535.98 72.7 L536.62 72.65 L537.27 72.58 L537.91 72.49 L538.56 72.38 L539.2 72.24 L539.85 72.06 L540.49 71.82 L541.14 71.52 L541.78 71.14 L542.43 70.64 L543.07 70 L543.72 69.19 L544.36 68.14 L545.01 66.79 L545.65 65.06" stroke="#f00000"/>
<path d="M545.65 65.06 L545.65 52.34 L551.85 57.48 L552.05 64.94 L558.2 61.15 L558.5 52.34 L564.7 57.48 L564.9 64.94 L571.05 61.15 L571.35 52.34 L577.55 57.48 L577.75 64.94 L583.9 61.15 L584.2 52.34 L590.4 57.48 L590.6 64.94 L596.75 61.15 L597.05 52.34 L603.25 57.48 L603.45 64.94 L609.6 61.15 L609.9 52.34 L616.1 57.48 L616.3 64.94 L622.45 61.15 L622.75 52.34 L628.95 57.48 L629.15 64.94 L635.3 61.15 L635.6 52.34 L641.8 57.48 L642 64.94 L648.15 61.15 L648.45 52.34 L654.65 57.48 L654.85 64.94 L661 61.15 L661.3 52.34 L667.5 57.48 L667.7 64.94 L673.85 61.15 L674.15 52.34 L680.35 57.48 L680.55 64.94 L686.7 61.15" stroke="#f00000"/>
<path d="M545.65 149.17 L545.65 154.79 L551.85 161.39 L558.5 154.79 L564.7 161.39 L571.35 154.79 L577.55 161.39 L584.2 154.79 L590.4 161.39 L597.05 154.79 L603.25 161.39 L609.9 154.79 L616.1 161.39 L622.75 154.79 L628.95 161.39 L635.6 154.79 L641.8 161.39 L648.45 154.79 L654.65 161.39 L661.3 154.79 L667.5 161.39 L674.15 154.79 L680.35 161.39 L687 154.79" stroke="#f00000"/>
</g>
<rect x="416.7" y="19.8" width="257.90000000000003" height="207.6" fill="none" stroke="#4a4a4a" stroke-width="1.25"/>
<path d="M442.49 227.4 v-2 M442.49 19.8 v2 M468.28 227.4 v-4 M468.28 19.8 v4 M494.07 227.4 v-2 M494.07 19.8 v2 M519.86 227.4 v-4 M519.86 19.8 v4 M545.65 227.4 v-2 M545.65 19.8 v2 M571.44 227.4 v-4 M571.44 19.8 v4 M597.23 227.4 v-2 M597.23 19.8 v2 M623.02 227.4 v-4 M623.02 19.8 v4 M648.81 227.4 v-2 M648.81 19.8 v2 M416.7 215.43 h2 M674.6 215.43 h-2 M416.7 203.2 h4 M674.6 203.2 h-4 M416.7 190.98 h2 M674.6 190.98 h-2 M416.7 178.75 h4 M674.6 178.75 h-4 M416.7 166.53 h2 M674.6 166.53 h-2 M416.7 154.3 h4 M674.6 154.3 h-4 M416.7 142.08 h2 M674.6 142.08 h-2 M416.7 129.85 h4 M674.6 129.85 h-4 M416.7 117.63 h2 M674.6 117.63 h-2 M416.7 105.4 h4 M674.6 105.4 h-4 M416.7 93.18 h2 M674.6 93.18 h-2 M416.7 80.95 h4 M674.6 80.95 h-4 M416.7 68.73 h2 M674.6 68.73 h-2 M416.7 56.5 h4 M674.6 56.5 h-4 M416.7 44.28 h2 M674.6 44.28 h-2 M416.7 32.05 h4 M674.6 32.05 h-4" stroke="#4a4a4a" stroke-width="1.1" fill="none"/>
<text x="416.7" y="242" font-size="14" text-anchor="middle">0</text>
<text x="468.28" y="242" font-size="14" text-anchor="middle">20</text>
<text x="519.86" y="242" font-size="14" text-anchor="middle">40</text>
<text x="571.44" y="242" font-size="14" text-anchor="middle">60</text>
<text x="623.02" y="242" font-size="14" text-anchor="middle">80</text>
<text x="674.6" y="242" font-size="14" text-anchor="middle">100</text>
<text x="412.2" y="232.35" font-size="14" text-anchor="end">-3</text>
<text x="412.2" y="207.9" font-size="14" text-anchor="end">-2</text>
<text x="412.2" y="183.45" font-size="14" text-anchor="end">-1</text>
<text x="412.2" y="159" font-size="14" text-anchor="end">0</text>
<text x="412.2" y="134.55" font-size="14" text-anchor="end">1</text>
<text x="412.2" y="110.1" font-size="14" text-anchor="end">2</text>
<text x="412.2" y="85.65" font-size="14" text-anchor="end">3</text>
<text x="412.2" y="61.2" font-size="14" text-anchor="end">4</text>
<text x="412.2" y="36.75" font-size="14" text-anchor="end">5</text>
<text x="545.7" y="260.4" font-size="17.8" text-anchor="middle">Depth (nm)</text>
<text transform="translate(387.8 123.6) rotate(-90)" font-size="17.9" text-anchor="middle">Energy (eV)</text>
<text x="406.8" y="12" font-size="15.3" style="fill:#e8323f">p-Gan</text>
<text x="462.9" y="12" font-size="15.3" style="fill:#f07f86">p-Gan 2</text>
<text x="593.3" y="12" font-size="14.8">p-SL</text>
<text x="643.6" y="42.2" font-size="19.3">(b)</text>
<text x="515" y="217" font-size="15.3">Diagram at equilibrium</text>
<path d="M440 42.6 H452.7" stroke="#e63c45" stroke-width="2.4"/>
<path d="M431.6 42.6 L441.4 37.8 L441.4 47.4 Z" fill="#e63c45"/>
<g style="fill:#e63c45"><text x="458" y="45.9" font-size="13.5">1x10</text><text x="487.5" y="40.6" font-size="8.6">19</text><text x="500.6" y="45.9" font-size="13.5">cm</text><text x="519.6" y="40.6" font-size="8.6">-3</text></g>
<text x="555" y="82.7" font-size="10.6">GaN doping in region 2</text>
<text x="555" y="97.2" font-size="10.6">[x10<tspan dy="-4" font-size="7.5">17</tspan><tspan dy="4"> cm</tspan><tspan dy="-4" font-size="7.5">-3</tspan><tspan dy="4">]:</tspan></text>
<path d="M555.9 107.9 H576.4" stroke="#9a1cf5" stroke-width="2.8"/>
<text x="579.2" y="111.2" font-size="9.4">5</text>
<path d="M605.4 107.9 H625.8" stroke="#2a1ee8" stroke-width="2.8"/>
<text x="628.6" y="111.2" font-size="9.4">10</text>
<path d="M555.9 119.10000000000001 H576.4" stroke="#16a4f7" stroke-width="2.8"/>
<text x="579.2" y="122.4" font-size="9.4">20</text>
<path d="M605.4 119.10000000000001 H625.8" stroke="#1ee87c" stroke-width="2.8"/>
<text x="628.6" y="122.4" font-size="9.4">25</text>
<path d="M555.9 130.5 H576.4" stroke="#a8e61a" stroke-width="2.8"/>
<text x="579.2" y="133.8" font-size="9.4">30</text>
<path d="M605.4 130.5 H625.8" stroke="#fa7d1a" stroke-width="2.8"/>
<text x="628.6" y="133.8" font-size="9.4">40</text>
<path d="M555.9 141.79999999999998 H576.4" stroke="#f00000" stroke-width="2.8"/>
<text x="579.2" y="145.1" font-size="9.4">50</text>
</svg>
</body></html>
